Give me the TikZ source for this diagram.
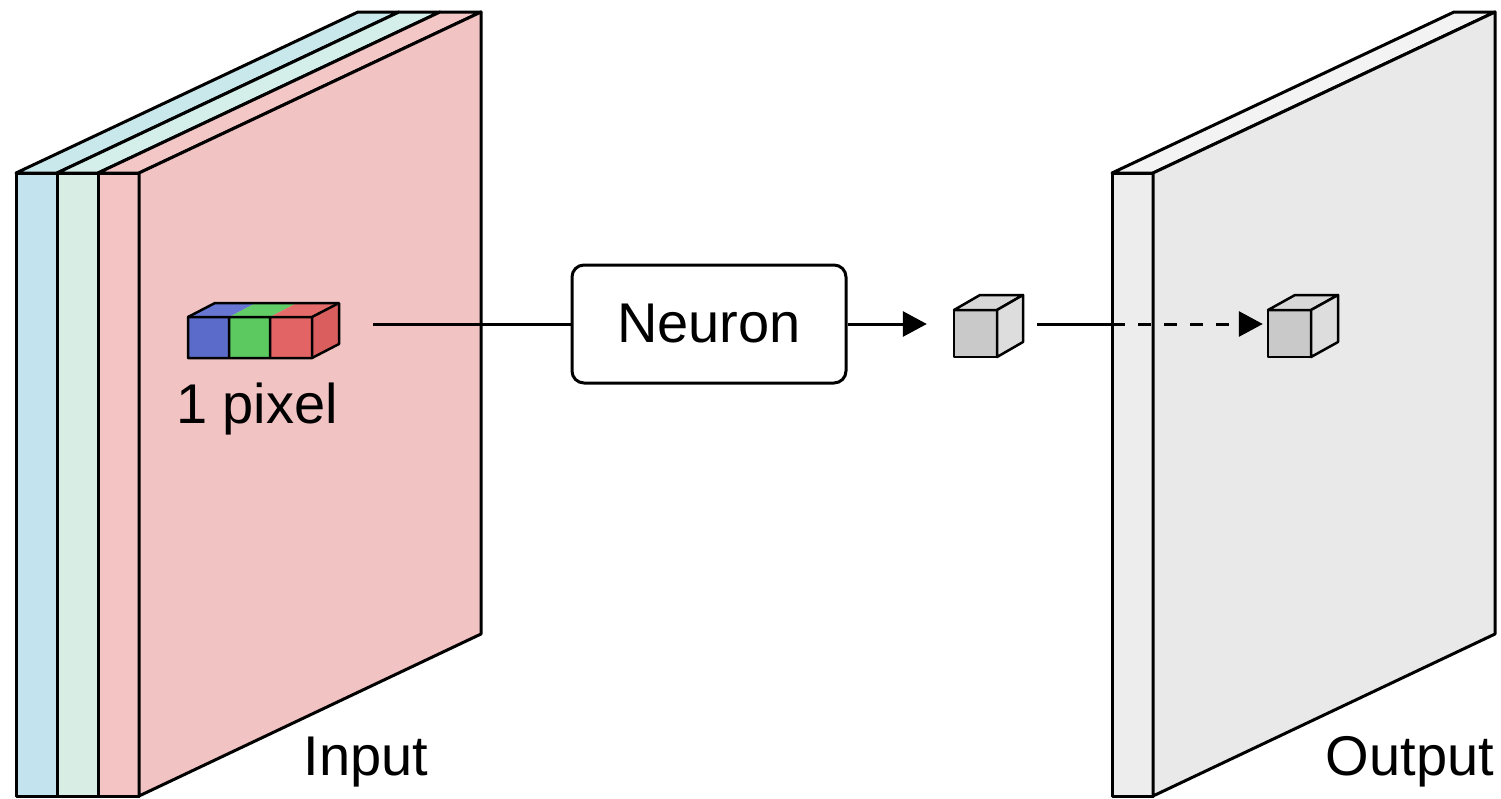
\documentclass[tikz,border=0pt]{standalone}
\usepackage{fontspec}
\setmainfont{Liberation Sans}
\usetikzlibrary{arrows.meta}
\definecolor{blueS}{HTML}{C3E4EE}
\definecolor{blueT}{HTML}{C8E8EC}
\definecolor{mintS}{HTML}{D8EEE4}
\definecolor{mintT}{HTML}{D4EEEA}
\definecolor{pinkS}{HTML}{F4C4C4}
\definecolor{pinkF}{HTML}{F2C3C3}
\definecolor{pinkT}{HTML}{F4C7C7}
\definecolor{grayS}{HTML}{EDEDED}
\definecolor{grayF}{HTML}{E9E9E9}
\definecolor{grayT}{HTML}{F3F3F3}
\definecolor{cubeB}{HTML}{5B6BC9}
\definecolor{cubeBT}{HTML}{6676D2}
\definecolor{cubeG}{HTML}{5CC860}
\definecolor{cubeGT}{HTML}{62CC66}
\definecolor{cubeR}{HTML}{E26464}
\definecolor{cubeRT}{HTML}{E66C6C}
\definecolor{cubeRS}{HTML}{DA5E5E}
\definecolor{gcF}{HTML}{C9C9C9}
\definecolor{gcT}{HTML}{D8D8D8}
\definecolor{gcS}{HTML}{DDDDDD}
\begin{document}
\begin{tikzpicture}[x=1pt,y=-1pt,
  slab/.style={draw=black,line width=3pt,line join=round},
  cubeface/.style={draw=black,line width=2.5pt,line join=round},
  conn/.style={draw=black,line width=3pt},
  tip/.style={-{Triangle[length=24pt,width=25pt]}},
  lbl/.style={font=\fontsize{56}{60}\selectfont,inner sep=0pt}]
\useasboundingbox (0,0) rectangle (1501,798);
% ---- input stack ----
\path[slab,fill=blueS] (16,173) rectangle (57,796);
\path[slab,fill=blueT] (16,173) -- (57,173) -- (399,12) -- (358,12) -- cycle;
\path[slab,fill=mintS] (57,173) rectangle (98,796);
\path[slab,fill=mintT] (57,173) -- (98,173) -- (440,12) -- (399,12) -- cycle;
\path[slab,fill=pinkS] (98,173) rectangle (139,796);
\path[slab,fill=pinkT] (98,173) -- (139,173) -- (481,12) -- (440,12) -- cycle;
\path[slab,fill=pinkF] (139,173) -- (481,12) -- (481,634) -- (139,796) -- cycle;
% ---- output slab ----
\path[slab,fill=grayS] (1112,173) rectangle (1153,796);
\path[slab,fill=grayT] (1112,173) -- (1153,173) -- (1495,12) -- (1454,12) -- cycle;
\path[slab,fill=grayF] (1153,173) -- (1495,12) -- (1495,634) -- (1153,796) -- cycle;
% ---- pixel cube ----
\fill[cubeB] (188,317) rectangle (229,358);
\fill[cubeG] (229,317) rectangle (270,358);
\fill[cubeR] (270,317) rectangle (312,358);
\fill[cubeBT] (188,317) -- (229,317) -- (256,303) -- (215,303) -- cycle;
\fill[cubeGT] (229,317) -- (270,317) -- (297,303) -- (256,303) -- cycle;
\fill[cubeRT] (270,317) -- (312,317) -- (339,303) -- (297,303) -- cycle;
\fill[cubeRS] (312,317) -- (339,303) -- (339,344) -- (312,358) -- cycle;
\draw[cubeface] (188,317) -- (215,303) -- (339,303) -- (339,344) -- (312,358) -- (188,358) -- cycle;
\draw[cubeface] (188,317) -- (312,317) -- (339,303) (312,317) -- (312,358)
  (229,317) -- (229,358) (270,317) -- (270,358);
\node[inner sep=0pt,minimum width=151pt,minimum height=55pt,outer xsep=34pt] (pix) at (263.5,330.5) {};
\node[lbl,anchor=base] (pixlabel) at (257,423) {1 pixel};
% ---- gray cubes ----
\path[cubeface,fill=gcF] (954,310) rectangle (997,357);
\path[cubeface,fill=gcT] (954,310) -- (997,310) -- (1023,295) -- (980,295) -- cycle;
\path[cubeface,fill=gcS] (997,310) -- (1023,295) -- (1023,342) -- (997,357) -- cycle;
\node[inner sep=0pt,minimum width=69pt,minimum height=62pt] (g1) at (988.5,326) {};
\path[cubeface,fill=gcF] (1268,310) rectangle (1311,357);
\path[cubeface,fill=gcT] (1268,310) -- (1311,310) -- (1338,295) -- (1295,295) -- cycle;
\path[cubeface,fill=gcS] (1311,310) -- (1338,295) -- (1338,342) -- (1311,357) -- cycle;
\node[inner sep=0pt,minimum width=70pt,minimum height=62pt] (g2) at (1303,326) {};
% ---- neuron ----
\node[draw,line width=3pt,rounded corners=12pt,minimum width=274pt,minimum height=118pt,
  inner sep=0pt,font=\fontsize{56}{60}\selectfont,fill=white] (neuron) at (709,324) {Neuron};
\coordinate (outL) at (1112,324);
% ---- connectors ----
\draw[conn] (pix.east |- neuron.west) -- (neuron.west);
\draw[conn,tip] (neuron.east) -- ([xshift=-27pt]g1.west |- neuron.east);
\draw[conn] ([xshift=14pt]g1.east |- neuron.east) -- (outL);
\draw[conn,tip,dash pattern=on 13pt off 13pt] (outL) -- ([xshift=-5pt]g2.west |- neuron.east);
% ---- labels ----
\node[lbl,anchor=base] (inlabel) at (366,775) {Input};
\node[lbl,anchor=base] (outlabel) at (1410,775) {Output};
\end{tikzpicture}
\end{document}
